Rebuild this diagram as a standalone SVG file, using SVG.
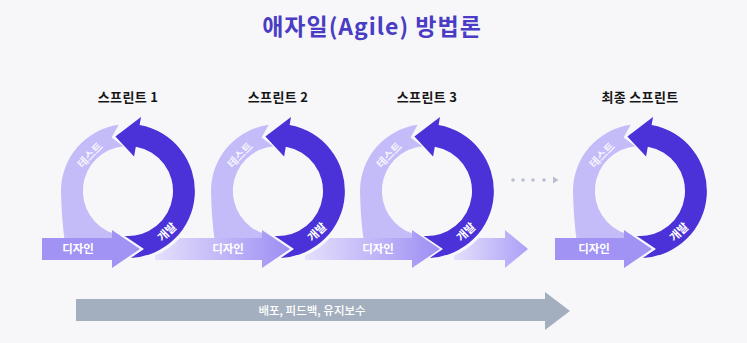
<svg xmlns="http://www.w3.org/2000/svg" xmlns:xlink="http://www.w3.org/1999/xlink" width="747" height="343" viewBox="0 0 747 343">
<style>
.bg{fill:#f7f7f9}
.light{fill:#c4bcf9}
.dark{fill:#4a32d8}
.design{fill:#a193f4}
.t{font-family:"Noto Sans CJK KR","Noto Sans",sans-serif;font-weight:700}
.title{font-size:23px;fill:#4a3cc4;letter-spacing:1px}
.st{font-size:13px;fill:#161616;letter-spacing:0.3px}
.lbl{font-size:11.5px;fill:#ffffff}
.lt{font-size:11px;fill:#ffffff;fill-opacity:0.85}
.bl{font-size:11.5px;fill:#ffffff;font-weight:500}
.dot{fill:#b9bfcf}
</style>
<defs>
<path id="lightArc" d="M-63 52 Q-66.5 28 -67 0 A67 67 0 0 1 -9.3 -66.3 L-16.4 -53.6 L-4.7 -44.8 A45 45 0 0 0 -13.9 42.8 L-14 52 Z"/>
<path id="darkArc" d="M2.8 66.9 A67 67 0 0 0 11.6 -66 L13 -73.9 L-12.6 -54.6 L6.1 -34.5 L7.8 -44.3 A45 45 0 0 1 -3.3 44.9 L16 58 Z"/>
<linearGradient id="bandGrad" x1="0" y1="0" x2="1" y2="0">
<stop offset="0" stop-color="#e4e0fc"/>
<stop offset="1" stop-color="#9d8ef3"/>
</linearGradient>
<linearGradient id="exitGrad" x1="0" y1="0" x2="1" y2="0">
<stop offset="0" stop-color="#e4e0fc"/>
<stop offset="1" stop-color="#ab9ff6"/>
</linearGradient>
</defs>
<rect class="bg" x="0" y="0" width="747" height="343"/>
<text class="t title" x="372" y="35" text-anchor="middle">애자일(Agile) 방법론</text>

<g id="sprint1">
<text class="t st" x="128" y="102" text-anchor="middle">스프린트 1</text>
<use href="#lightArc" x="128" y="191" class="light"/>
<path class="design" d="M42 238 H112 V230 L140 249 L112 268 V260 H42 Z"/>
<use href="#darkArc" x="128" y="191" class="dark"/>
<text class="t lt" transform="translate(90 155) rotate(-46)" text-anchor="middle" dy="4">테스트</text>
<text class="t lbl" x="78" y="253" text-anchor="middle">디자인</text>
<text class="t lbl" transform="translate(167 232) rotate(-44)" text-anchor="middle" dy="4">개발</text>
</g>

<g id="sprint2">
<text class="t st" x="278" y="102" text-anchor="middle">스프린트 2</text>
<use href="#lightArc" x="278" y="191" class="light"/>
<path fill="url(#bandGrad)" d="M155 260 V255.6 A70 70 0 0 0 179.9 238 H262 V230 L290 249 L262 268 V260 Z"/>
<use href="#darkArc" x="278" y="191" class="dark"/>
<text class="t lt" transform="translate(240 155) rotate(-46)" text-anchor="middle" dy="4">테스트</text>
<text class="t lbl" x="228" y="253" text-anchor="middle">디자인</text>
<text class="t lbl" transform="translate(317 232) rotate(-44)" text-anchor="middle" dy="4">개발</text>
</g>

<g id="sprint3">
<text class="t st" x="427" y="102" text-anchor="middle">스프린트 3</text>
<use href="#lightArc" x="427" y="191" class="light"/>
<path fill="url(#bandGrad)" d="M305 260 V255.6 A70 70 0 0 0 329.9 238 H412 V230 L440 249 L412 268 V260 Z"/>
<use href="#darkArc" x="427" y="191" class="dark"/>
<text class="t lt" transform="translate(389 155) rotate(-46)" text-anchor="middle" dy="4">테스트</text>
<text class="t lbl" x="378" y="253" text-anchor="middle">디자인</text>
<text class="t lbl" transform="translate(466 232) rotate(-44)" text-anchor="middle" dy="4">개발</text>
</g>

<g id="sprintFinal">
<text class="t st" x="640" y="102" text-anchor="middle">최종 스프린트</text>
<use href="#lightArc" x="640" y="191" class="light"/>
<path class="design" d="M555 238 H624 V230 L652 249 L624 268 V260 H555 Z"/>
<use href="#darkArc" x="640" y="191" class="dark"/>
<text class="t lt" transform="translate(602 155) rotate(-46)" text-anchor="middle" dy="4">테스트</text>
<text class="t lbl" x="594" y="253" text-anchor="middle">디자인</text>
<text class="t lbl" transform="translate(679 232) rotate(-44)" text-anchor="middle" dy="4">개발</text>
</g>

<g id="connectors">
<path fill="url(#exitGrad)" d="M454 260 V255.6 A70 70 0 0 0 478.9 238 H505 V230 L528 249 L505 268 V260 Z"/>
<circle class="dot" cx="513" cy="180" r="1.8"/>
<circle class="dot" cx="523" cy="180" r="1.8"/>
<circle class="dot" cx="533" cy="180" r="1.8"/>
<circle class="dot" cx="544" cy="180" r="1.8"/>
<path class="dot" d="M553 176.5 L558.5 180 L553 183.5 Z"/>
</g>

<g id="maintenance">
<path fill="#a3afbe" d="M76 299 H545 V292 L570 311 L545 330 V321 H76 Z"/>
<text class="t bl" x="312" y="315" text-anchor="middle">배포, 피드백, 유지보수</text>
</g>
</svg>
